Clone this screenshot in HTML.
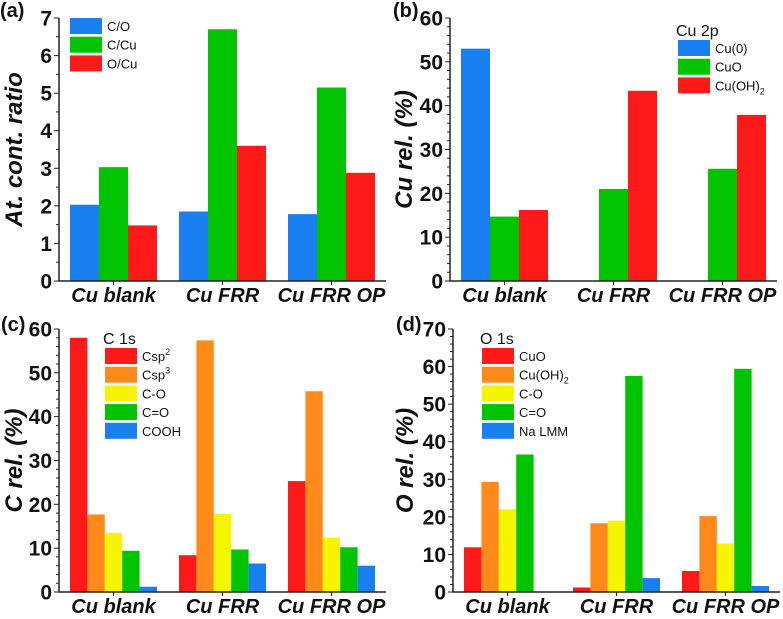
<!DOCTYPE html>
<html><head><meta charset="utf-8"><style>
html,body{margin:0;padding:0;background:#fff}
svg{display:block;font-family:"Liberation Sans",Arial,sans-serif}
</style></head><body>
<svg id="fig" width="783" height="619" viewBox="0 0 783 619" xmlns="http://www.w3.org/2000/svg"></svg>
<script>
const categories = ["Cu blank","Cu FRR","Cu FRR OP"];
// (a)
const aSeries = ["C/O","C/Cu","O/Cu"];
const aCO = [2.03,1.85,1.78];
const aCCu = [3.03,6.7,5.15];
const aOCu = [1.48,3.6,2.88];
const aTicks = [0,1,2,3,4,5,6,7];
// (b)
const bSeries = ["Cu(0)","CuO","Cu(OH)2"];
const bCu0 = [53,0,0];
const bCuO = [14.7,21,25.6];
const bCuOH = [16.2,43.4,37.9];
const bTicks = [0,10,20,30,40,50,60];
// (c)
const cSeries = ["Csp2","Csp3","C-O","C=O","COOH"];
const cCsp2 = [58,8.4,25.3];
const cCsp3 = [17.7,57.4,45.8];
const cCO = [13.5,17.8,12.4];
const cCdO = [9.4,9.7,10.2];
const cCOOH = [1.2,6.5,6.0];
const cTicks = [0,10,20,30,40,50,60];
// (d)
const dSeries = ["CuO","Cu(OH)2","C-O","C=O","Na LMM"];
const dCuO = [11.9,1.2,5.6];
const dCuOH = [29.3,18.3,20.2];
const dCO = [22,19,12.9];
const dCdO = [36.6,57.5,59.4];
const dNa = [0,3.7,1.6];
const dTicks = [0,10,20,30,40,50,60,70];

const BLUE="#1a7ff0",GREEN="#00c400",RED="#ff1a1a",ORANGE="#ff8a1a",YELLOW="#f5f500";
const NS="http://www.w3.org/2000/svg";
const svg=document.getElementById("fig");
function mk(tag,attrs,parent){const e=document.createElementNS(NS,tag);for(const k in attrs)e.setAttribute(k,attrs[k]);(parent||svg).appendChild(e);return e;}

function panel(o){
  const g=mk("g",{});
  
  
  const x0=o.x0,y0=o.y0,yt=o.yt,max=o.ticks[o.ticks.length-1];
  const ys=v=>y0-(v/max)*(y0-yt);
  const step=109,gw=87;
  const xs=i=>x0+step*(i+0.5);
  const n=o.series.length,bw=gw/n;
  o.data.forEach((arr,s)=>{
    arr.forEach((v,i)=>{
      const bx=xs(i)-gw/2+s*bw;
      const r=mk("rect",{x:bx,y:ys(v),width:bw,height:y0-ys(v),fill:o.colors[s]},g);
      
      
    });
  });
  const ax=mk("path",{d:`M${x0},${yt} V${y0} H${x0+step*3}`,stroke:"#222",fill:"none","stroke-width":1.5},g);
  
  
  const minor=o.minor;
  for(let v=0;v<=max+1e-9;v+=minor){
    const isMaj=o.ticks.some(t=>Math.abs(t-v)<1e-6);
    mk("line",{x1:x0,x2:x0-(isMaj?5:3),y1:ys(v),y2:ys(v),stroke:"#222","stroke-width":1},g);
  }
  o.ticks.forEach(t=>{
    const tx=mk("text",{x:x0-7,y:ys(t)+7.5,"text-anchor":"end","font-size":21,"font-weight":"bold",fill:"#111"},g);
    tx.textContent=t;
    
    
  });
  categories.forEach((c,i)=>{
    mk("line",{x1:xs(i),x2:xs(i),y1:y0,y2:y0+4,stroke:"#222"},g);
    const tx=mk("text",{x:xs(i),y:y0+21,"text-anchor":"middle","font-size":20,"font-weight":"bold","font-style":"italic",fill:"#111"},g);
    tx.textContent=c;
    
    
  });
  const ty=mk("text",{transform:`translate(${o.titleX},${(y0+yt)/2}) rotate(-90)`,"text-anchor":"middle","font-size":24,"font-weight":"bold","font-style":"italic",fill:"#111"},g);
  ty.textContent=o.ytitle;
  
  
  const pl=mk("text",{x:o.plX,y:o.plY,"font-size":20,"font-weight":"bold",fill:"#111"},g);
  pl.textContent=o.label;
  
  
  if(o.legTitle){
    const lt=mk("text",{x:o.lx-2,y:o.ly-4,"font-size":16,fill:"#111"},g);
    lt.textContent=o.legTitle;
    
    
  }
  o.series.forEach((s,k)=>{
    const yy=o.ly+k*18.7;
    mk("rect",{x:o.lx,y:yy,width:32,height:16,fill:o.colors[k]},g);
    const t=mk("text",{x:o.lx+37,y:yy+13,"font-size":13,fill:"#111"},g);
    
    
    const m=s.match(/^(.*?)(2|3)$/);
    if(s==="Cu(OH)2"){t.textContent="Cu(OH)";const sb=mk("tspan",{"font-size":9,dy:4},t);sb.textContent="2";}
    else if(s==="Csp2"||s==="Csp3"){t.textContent="Csp";const sb=mk("tspan",{"font-size":9,dy:-6},t);sb.textContent=m[2];}
    else t.textContent=s;
  });
}
panel({name:"panel-a",x0:59,y0:281,yt:18,ticks:aTicks,minor:0.5,series:aSeries,data:[aCO,aCCu,aOCu],colors:[BLUE,GREEN,RED],ytitle:"At. cont. ratio",titleX:22,label:"(a)",plX:0,plY:17,lx:70,ly:18});
panel({name:"panel-b",x0:450,y0:281,yt:18,ticks:bTicks,minor:2,series:bSeries,data:[bCu0,bCuO,bCuOH],colors:[BLUE,GREEN,RED],ytitle:"Cu rel. (%)",titleX:412,label:"(b)",plX:393,plY:17,lx:678,ly:40,legTitle:"Cu 2p"});
panel({name:"panel-c",x0:59,y0:592,yt:329,ticks:cTicks,minor:2,series:cSeries,data:[cCsp2,cCsp3,cCO,cCdO,cCOOH],colors:[RED,ORANGE,YELLOW,GREEN,BLUE],ytitle:"C rel. (%)",titleX:22,label:"(c)",plX:1,plY:331,lx:105,ly:348,legTitle:"C 1s"});
panel({name:"panel-d",x0:453,y0:592,yt:329,ticks:dTicks,minor:2,series:dSeries,data:[dCuO,dCuOH,dCO,dCdO,dNa],colors:[RED,ORANGE,YELLOW,GREEN,BLUE],ytitle:"O rel. (%)",titleX:413,label:"(d)",plX:396,plY:331,lx:482,ly:348,legTitle:"O 1s"});
</script>
</body></html>
